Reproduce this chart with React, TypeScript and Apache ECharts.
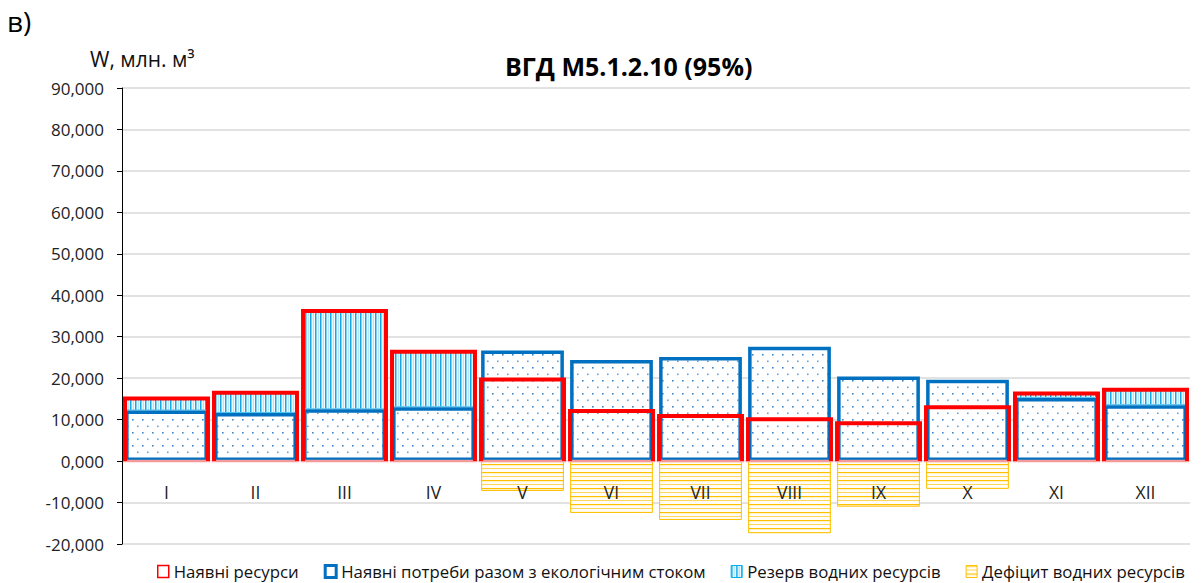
import React, { useEffect, useRef } from "react";
import * as echarts from "echarts";

const categories = ["I", "II", "III", "IV", "V", "VI", "VII", "VIII", "IX", "X", "XI", "XII"];
const resources = [15.1, 16.5, 36.2, 26.4, 19.7, 12.1, 10.9, 10.1, 9.1, 13.0, 16.3, 17.2];
const needs = [12.2, 11.6, 12.5, 13.0, 26.7, 24.4, 25.1, 27.6, 20.4, 19.6, 15.2, 13.5];
const deficits: (number | null)[] = [null, null, null, null, -7.2, -12.5, -14.2, -17.4, -11.0, -6.7, null, null];
const yMin = -20;
const yMax = 90;
const yStep = 10;

const seriesNames = [
  "Наявні ресурси",
  "Наявні потреби разом з екологічним стоком",
  "Резерв водних ресурсів",
  "Дефіцит водних ресурсів",
];

function makeCanvas(w: number, h: number, draw: (ctx: CanvasRenderingContext2D) => void) {
  const c = document.createElement("canvas");
  c.width = w;
  c.height = h;
  const ctx = c.getContext("2d")!;
  draw(ctx);
  return c;
}

const FONT = "'Open Sans', 'Noto Sans', sans-serif";

export default function App() {
  const ref = useRef<HTMLDivElement>(null);
  useEffect(() => {
    if (!ref.current) return;
    const chart = echarts.init(ref.current, undefined, { renderer: "svg" });

    const dots = makeCanvas(10, 13, (ctx) => {
      ctx.fillStyle = "#ffffff";
      ctx.fillRect(0, 0, 10, 13);
      ctx.fillStyle = "#3f86c8";
      ctx.fillRect(2, 3, 1.6, 1.6);
      ctx.fillStyle = "#6aa3d8";
      ctx.fillRect(7, 9.5, 1.6, 1.6);
    });
    const vlines = makeCanvas(5, 4, (ctx) => {
      ctx.fillStyle = "#f4fbfe";
      ctx.fillRect(0, 0, 5, 4);
      ctx.fillStyle = "#12a8e6";
      ctx.fillRect(0, 0, 1.5, 4);
      ctx.fillStyle = "#a9def4";
      ctx.fillRect(2.8, 0, 1, 4);
    });
    const hlines = makeCanvas(4, 8, (ctx) => {
      ctx.fillStyle = "#fffdf6";
      ctx.fillRect(0, 0, 4, 8);
      ctx.fillStyle = "#ffc000";
      ctx.fillRect(0, 0, 4, 1.2);
      ctx.fillStyle = "#ffd760";
      ctx.fillRect(0, 4, 4, 1);
    });

    const dotFill: any = { image: dots, repeat: "repeat" };
    const vFill: any = { image: vlines, repeat: "repeat" };
    const hFill: any = { image: hlines, repeat: "repeat" };

    const reserve = resources.map((r, i) => (r > needs[i] ? +(r - needs[i]).toFixed(2) : null));

    const option: any = {
      animation: false,
      grid: { left: 122, right: 13, top: 88, bottom: 39, containLabel: false },
      graphic: [
        { type: "text", left: 7, top: 7, style: { text: "в)", font: `28px ${FONT}`, fill: "#000" } },
        { type: "text", left: 90, top: 48, style: { text: "W, млн. м³", font: `21px ${FONT}`, fill: "#111" } },
        {
          type: "text",
          left: 505,
          top: 53,
          style: { text: "ВГД М5.1.2.10 (95%)", font: `bold 25px ${FONT}`, fill: "#000" },
        },
      ],
      legend: {
        left: 157,
        top: 563,
        itemWidth: 11,
        itemHeight: 12,
        itemGap: 25,
        padding: 0,
        textStyle: { fontFamily: FONT, fontSize: 16.8, color: "#111" },
        data: [
          { name: seriesNames[0], icon: "rect", itemStyle: { color: "#fff", borderColor: "#ff0000", borderWidth: 1.5 } },
          { name: seriesNames[1], icon: "rect", itemStyle: { color: "#fff", borderColor: "#0070c0", borderWidth: 3 } },
          { name: seriesNames[2], icon: "rect", itemStyle: { color: vFill, borderColor: "#00b0f0", borderWidth: 1 } },
          { name: seriesNames[3], icon: "rect", itemStyle: { color: hFill, borderColor: "#ffc000", borderWidth: 1 } },
        ],
      },
      xAxis: {
        type: "category",
        data: categories,
        z: 10,
        axisLine: { show: false, onZero: false },
        axisTick: { show: false },
        axisLabel: { margin: -61, fontFamily: FONT, fontSize: 17.5, color: "#222" },
        splitLine: { show: false },
      },
      yAxis: {
        type: "value",
        min: yMin,
        max: yMax,
        interval: yStep,
        axisLine: { show: true, lineStyle: { color: "#000", width: 1 } },
        axisTick: { show: true, length: 5, lineStyle: { color: "#000" } },
        axisLabel: {
          margin: 18,
          fontFamily: FONT,
          fontSize: 17,
          color: "#222",
          formatter: (v: number) => v.toFixed(3).replace(".", ","),
        },
        splitLine: { lineStyle: { color: "#d9d9d9", width: 1.5 } },
      },
      series: [
        {
          name: seriesNames[1],
          type: "bar",
          stack: "pos",
          z: 3,
          barWidth: "93%",
          barGap: "-100%",
          data: needs,
          itemStyle: { color: dotFill, borderColor: "#0070c0", borderWidth: 3.5 },
        },
        {
          name: seriesNames[2],
          type: "bar",
          stack: "pos",
          z: 2,
          barWidth: "93%",
          barGap: "-100%",
          data: reserve,
          itemStyle: { color: vFill, borderColor: "#4fc3f0", borderWidth: 1 },
        },
        {
          name: seriesNames[3],
          type: "bar",
          z: 2,
          barWidth: "93%",
          barGap: "-100%",
          data: deficits,
          itemStyle: { color: hFill, borderColor: "#ffc000", borderWidth: 1 },
        },
        {
          name: seriesNames[0],
          type: "custom",
          z: 5,
          data: resources.map((v, i) => [i, v]),
          encode: { x: 0, y: 1 },
          itemStyle: { color: "#ff0000" },
          renderItem: (params: any, api: any) => {
            const idx = api.value(0);
            const val = api.value(1);
            const top = api.coord([idx, val]);
            const base = api.coord([idx, 0]);
            const band = api.size([1, 0])[0];
            const half = band * 0.466;
            const cx = top[0];
            return {
              type: "group",
              children: [
                {
                  type: "line",
                  shape: { x1: cx - half - 2, y1: base[1], x2: cx + half + 2, y2: base[1] },
                  style: { stroke: "#f49a9a", lineWidth: 2.5 },
                },
                {
                  type: "polyline",
                  shape: {
                    points: [
                      [cx - half, base[1]],
                      [cx - half, top[1]],
                      [cx + half, top[1]],
                      [cx + half, base[1]],
                    ],
                  },
                  style: { stroke: "#ff0000", lineWidth: 4, fill: null, lineJoin: "miter" },
                },
              ],
            };
          },
        },
      ],
    };
    chart.setOption(option);
    return () => chart.dispose();
  }, []);
  return <div ref={ref} style={{ position: "absolute", left: 0, top: 0, width: 1203, height: 583 }} />;
}
